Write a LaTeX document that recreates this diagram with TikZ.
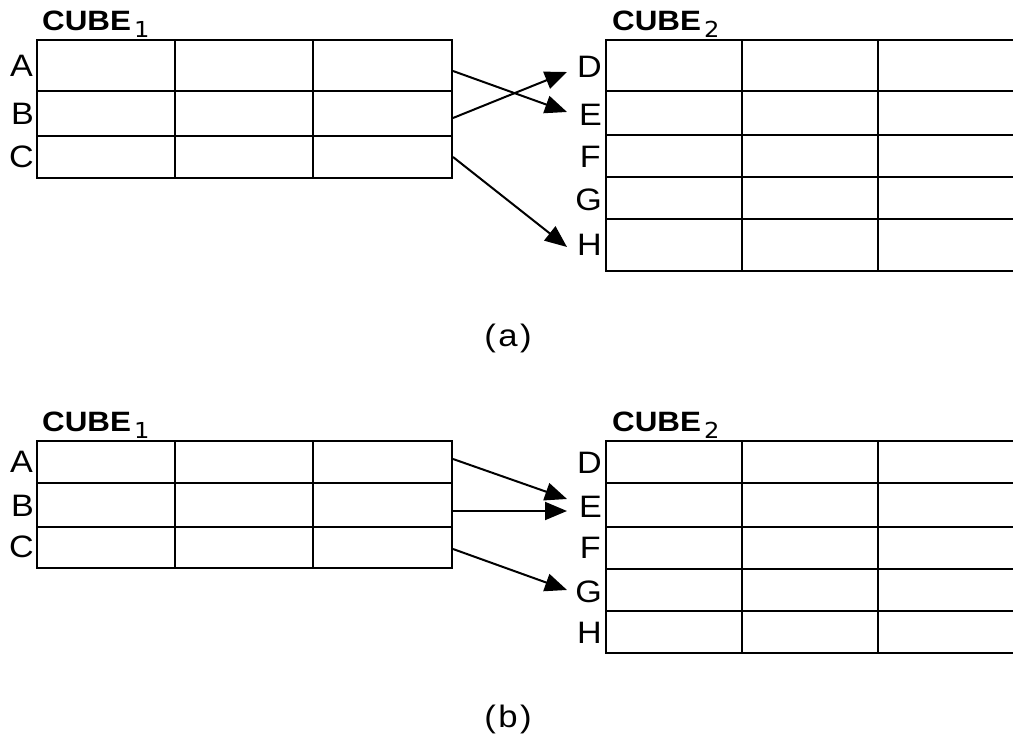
\documentclass[tikz,border=0pt]{standalone}
\usepackage{fontspec}
\setmainfont{Liberation Sans}
\newfontfamily\labelfont[FakeStretch=1.1]{Liberation Sans}
\newfontfamily\titlefont[FakeStretch=1.12]{Liberation Sans}
\newfontfamily\capfont[FakeStretch=1.12,LetterSpace=8]{Liberation Sans}
\newfontfamily\subfont[FakeStretch=1.1]{DejaVu Sans}
\usetikzlibrary{arrows.meta,calc}

% subscript index of a cube name
\newcommand{\cubeidx}[1]{\hspace{3pt}\raisebox{-7pt}{\subfont\mdseries\fontsize{22}{22}\selectfont #1}}

\tikzset{
  grid line/.style={line width=2pt,black},
  tablerow/.style={draw,line width=2pt,rectangle,inner sep=0pt,outer sep=0pt},
  rowlabel/.style={inner sep=0pt,anchor=east,font=\fontsize{31}{31}\labelfont},
  leftlabel/.style={rowlabel},
  title/.style={inner sep=0pt,anchor=base west,font=\fontsize{28}{28}\titlefont\bfseries},
  caption/.style={inner sep=0pt,font=\fontsize{31}{31}\capfont},
  link/.style={line width=2pt,-{Triangle[length=22pt,width=18pt]}}
}

\begin{document}
\begin{tikzpicture}[x=1pt,y=-1pt]
\useasboundingbox (0,0) rectangle (1013,738);
\fill[white] (0,0) rectangle (1013,738);

% ---------- (a) ----------
\node[title] (ta1) at (42,31) {CUBE\cubeidx{1}};
\node[title] (ta2) at (612,31) {CUBE\cubeidx{2}};

% left table rows
\node[tablerow,minimum width=415pt,minimum height=51pt] (aA) at (244.5,65.5) {};
\node[tablerow,minimum width=415pt,minimum height=45pt] (aB) at (244.5,113.5) {};
\node[tablerow,minimum width=415pt,minimum height=42pt] (aC) at (244.5,157) {};
\draw[grid line] (175,40) -- (175,178) (313,40) -- (313,178);

% right table rows
\node[tablerow,minimum width=412pt,minimum height=51pt] (aD) at (812,65.5) {};
\node[tablerow,minimum width=412pt,minimum height=44pt] (aE) at (812,113) {};
\node[tablerow,minimum width=412pt,minimum height=42pt] (aF) at (812,156) {};
\node[tablerow,minimum width=412pt,minimum height=42pt] (aG) at (812,198) {};
\node[tablerow,minimum width=412pt,minimum height=52pt] (aH) at (812,245) {};
\draw[grid line] (742,40) -- (742,271) (878,40) -- (878,271);

% row labels
\node[leftlabel] (laA) at (33,66) {A};
\node[leftlabel] (laB) at (34,114) {B};
\node[leftlabel] (laC) at (34,157) {C};
\node[rowlabel] (laD) at (602,67) {D};
\node[rowlabel] (laE) at (602,115) {E};
\node[rowlabel] (laF) at (601,157) {F};
\node[rowlabel] (laG) at (602,200) {G};
\node[rowlabel] (laH) at (602,245) {H};

% mappings
\draw[link] ($(aA.east)+(1,5.5)$) -- ($(aE.west)+(-39,-1)$);
\draw[link] ($(aB.east)+(1,4.5)$) -- ($(aD.west)+(-39,6.5)$);
\draw[link] ($(aC.east)+(1,0)$) -- ($(aH.west)+(-39,2)$);

\node[caption] (capa) at (508,338) {(a)};

% ---------- (b) ----------
\node[title] (tb1) at (42,431) {CUBE\cubeidx{1}};
\node[title] (tb2) at (612,431) {CUBE\cubeidx{2}};

% left table rows
\node[tablerow,minimum width=415pt,minimum height=42pt] (bA) at (244.5,462) {};
\node[tablerow,minimum width=415pt,minimum height=44pt] (bB) at (244.5,505) {};
\node[tablerow,minimum width=415pt,minimum height=41pt] (bC) at (244.5,547.5) {};
\draw[grid line] (175,441) -- (175,568) (313,441) -- (313,568);

% right table rows
\node[tablerow,minimum width=412pt,minimum height=42pt] (bD) at (812,462) {};
\node[tablerow,minimum width=412pt,minimum height=44pt] (bE) at (812,505) {};
\node[tablerow,minimum width=412pt,minimum height=42pt] (bF) at (812,548) {};
\node[tablerow,minimum width=412pt,minimum height=42pt] (bG) at (812,590) {};
\node[tablerow,minimum width=412pt,minimum height=42pt] (bH) at (812,632) {};
\draw[grid line] (742,441) -- (742,653) (878,441) -- (878,653);

% row labels
\node[leftlabel] (lbA) at (33,462) {A};
\node[leftlabel] (lbB) at (34,506) {B};
\node[leftlabel] (lbC) at (34,547) {C};
\node[rowlabel] (lbD) at (602,463) {D};
\node[rowlabel] (lbE) at (602,507) {E};
\node[rowlabel] (lbF) at (601,548) {F};
\node[rowlabel] (lbG) at (602,592) {G};
\node[rowlabel] (lbH) at (602,633) {H};

% mappings
\draw[link] ($(bA.east)+(1,-3)$) -- ($(bE.west)+(-39,-6)$);
\draw[link] ($(bB.east)+(1,6)$) -- ($(bE.west)+(-39,6)$);
\draw[link] ($(bC.east)+(1,1.5)$) -- ($(bG.west)+(-39,0)$);

\node[caption] (capb) at (508,719) {(b)};
\end{tikzpicture}
\end{document}
